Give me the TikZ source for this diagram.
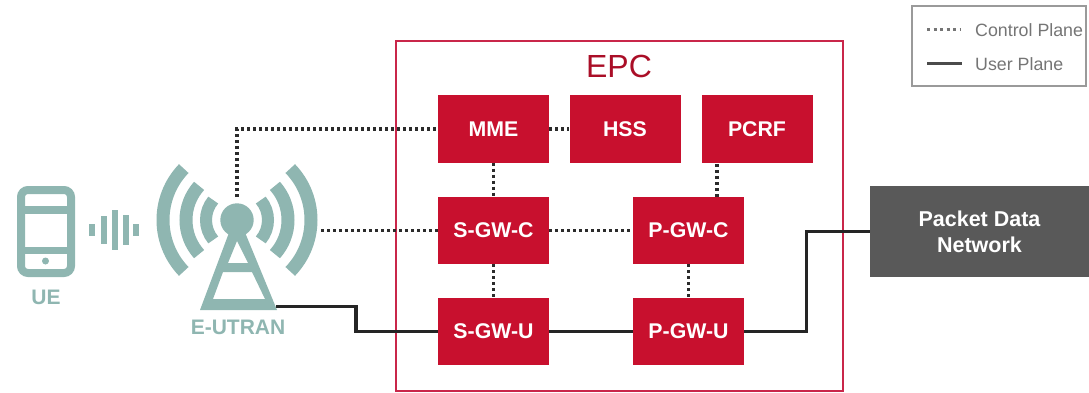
\documentclass[tikz,border=0pt]{standalone}
\usepackage{fontspec}
\setmainfont{Liberation Sans}
\definecolor{crim}{HTML}{C8102E}
\definecolor{epcline}{HTML}{C9264A}
\definecolor{teal1}{HTML}{8FB6B1}
\definecolor{pdn}{HTML}{595959}
\definecolor{legline}{HTML}{9A9A9A}
\definecolor{legtext}{HTML}{757575}
\definecolor{dotc}{HTML}{2B2B2B}
\tikzset{
  nbox/.style={fill=crim,minimum width=111pt,minimum height=67pt,inner sep=0pt,text=white,font=\bfseries\fontsize{21.3}{24}\selectfont},
  dotl/.style={draw=dotc,line width=3.4pt,dash pattern=on 3pt off 3pt},
  userl/.style={draw=dotc!85!black,line width=3.6pt,line join=miter},
  tealt/.style={text=teal1,inner sep=0pt,font=\bfseries\fontsize{21}{24}\selectfont},
  tealb/.style={draw=teal1,line cap=butt},
  legt/.style={text=legtext,inner sep=0pt,anchor=west,font=\fontsize{17.8}{22}\selectfont}
}
\begin{document}
\begin{tikzpicture}[x=1pt,y=-1pt]
\useasboundingbox (0,0) rectangle (1089,393);
% EPC frame
\node[draw=epcline,line width=2pt,minimum width=447pt,minimum height=350pt,inner sep=0pt] (epc) at (619.5,216) {};
\node[text=crim!85!black,inner sep=0pt,font=\fontsize{32}{36}\selectfont] (epct) at (619,66) {EPC};
% boxes
\node[nbox] (mme) at (493.5,129) {MME};
\node[nbox] (hss) at (625,129) {HSS};
\node[nbox] (pcrf) at (757,129) {PCRF};
\node[nbox] (sgwc) at (493.5,230.5) {S-GW-C};
\node[nbox] (pgwc) at (688.5,230.5) {P-GW-C};
\node[nbox] (sgwu) at (493.5,331.5) {S-GW-U};
\node[nbox] (pgwu) at (688.5,331.5) {P-GW-U};
\node[fill=pdn,minimum width=219pt,minimum height=91pt,inner sep=0pt,text=white,align=center,font=\bfseries\fontsize{21.5}{26}\selectfont] (net) at (979.5,231.5) {Packet Data\\Network};
% UE phone
\coordinate (ue) at (46,231.5);
\draw[teal1,line width=8pt,rounded corners=7pt] (21,190) rectangle (71,273);
\draw[tealb,line width=8pt] (20,210) -- (72,210);
\draw[tealb,line width=7pt] (20,250) -- (72,250);
\fill[teal1] (45.5,261) circle (3.5pt);
\node[tealt] (uet) at (46,297) {UE};
% signal
\foreach \x/\h in {92/6,104/14,115/20,126/15,136/6}{
  \draw[tealb,line width=6.5pt] (\x,230-\h) -- (\x,230+\h);
}
% antenna
\coordinate (c) at (237,220);
\foreach \r/\w/\a in {31/12/40,51/13/42,74/13/44}{
  \draw[tealb,line width=\w pt] (c) ++(180-\a:\r pt) arc[start angle=180-\a,end angle=180+\a,radius=\r pt];
  \draw[tealb,line width=\w pt] (c) ++(-\a:\r pt) arc[start angle=-\a,end angle=\a,radius=\r pt];
}
\fill[teal1] (c) circle (16.7pt);
\fill[teal1,even odd rule]
  (200,310) -- (230,230) -- (244,230) -- (277,310) -- cycle
  (237,241) -- (228,263) -- (248,263) -- cycle
  (223,272) -- (213,299) -- (265,299) -- (252,272) -- cycle;
\node[tealt] (eut) at (238,327) {E-UTRAN};
% anchors of the antenna
\coordinate (ttop) at (237,197);
\coordinate (tright) at (321,230.5);
\coordinate (tbase) at (276,306.5);
% control plane
\draw[dotl] (ttop) |- (mme.west);
\draw[dotl] (tright) -- (sgwc.west);
\draw[dotl] (mme.east) -- (hss.west);
\draw[dotl] (mme.south) -- (sgwc.north);
\draw[dotl] (sgwc.south) -- (sgwu.north);
\draw[dotl] (sgwc.east) -- (pgwc.west);
\draw[dotl] (pgwc.south) -- (pgwu.north);
\coordinate (px) at (717,180);
\draw[dotl] (px |- pgwc.north) -- (px |- pcrf.south);
% user plane
\coordinate (k1) at (356,306.5);
\draw[userl] (tbase) -- (k1) |- (sgwu.west);
\draw[userl] (sgwu.east) -- (pgwu.west);
\coordinate (k2) at (806.5,331.5);
\draw[userl] (pgwu.east) -- (k2) |- (net.west);
% legend
\node[draw=legline,line width=2.5pt,fill=white,minimum width=174pt,minimum height=80pt,inner sep=0pt] (leg) at (999,46) {};
\node[legt] (lc) at (975,30) {Control Plane};
\node[legt] (lu) at (975,64) {User Plane};
\coordinate (d1) at (927,29.5);
\coordinate (u1) at (927,63.5);
\draw[draw=legtext,line width=3pt,dash pattern=on 3pt off 3.5pt] (d1) -- (960,29.5);
\draw[draw=dotc!85,line width=2.5pt] (u1) -- (962,63.5);
\end{tikzpicture}
\end{document}
